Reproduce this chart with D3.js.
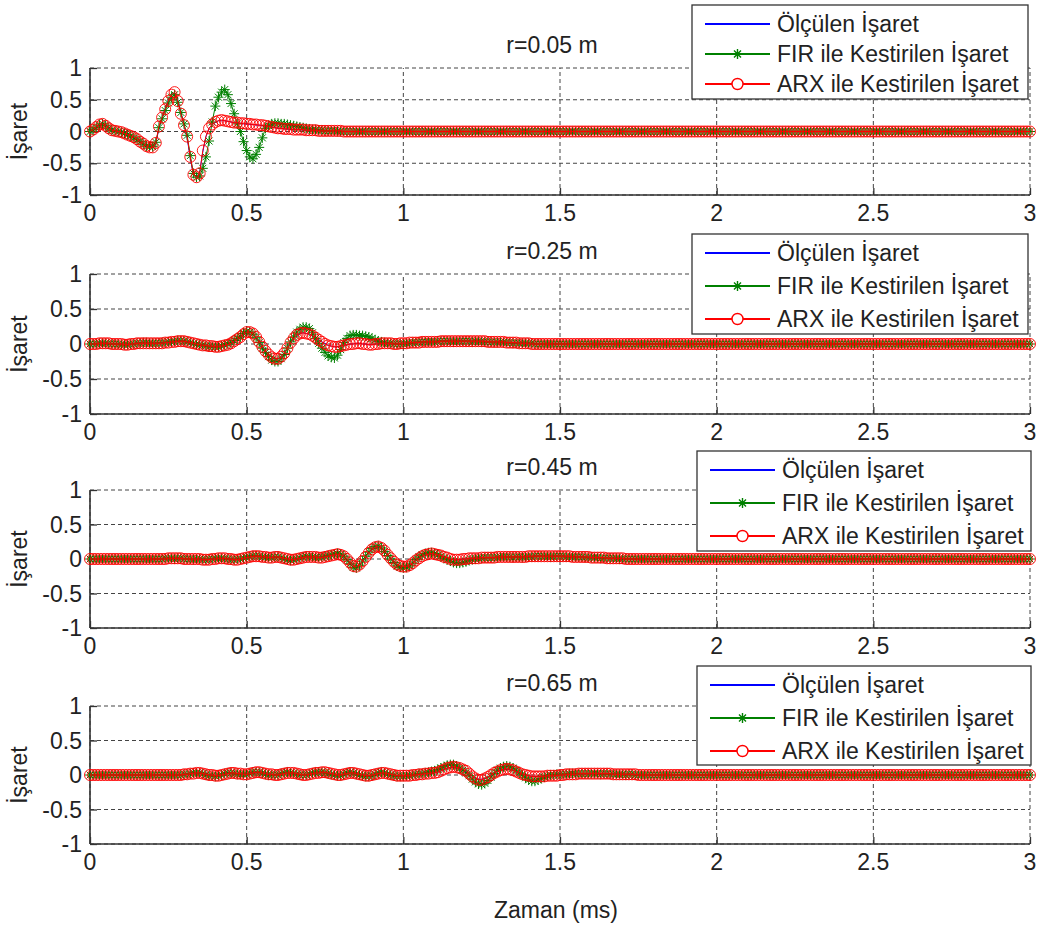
<!DOCTYPE html>
<html>
<head>
<meta charset="utf-8">
<script src="https://cdn.jsdelivr.net/npm/d3@7/dist/d3.min.js"></script>
<style>
body { margin: 0; background: #fff; }
text { font-family: "Liberation Sans", Arial, sans-serif; fill: #222; }
</style>
</head>
<body>
<svg id="chart" width="1040" height="926"></svg>
<script>
// signals are sampled every 0.01 ms from t=0, values in hundredths;
// one row = 0.1 ms. After the listed part the signal sits on 0 up to 3 ms.
var step = 0.01;
var tEnd = 3;
var radii = ["r=0.05 m", "r=0.25 m", "r=0.45 m", "r=0.65 m"];
var seriesNames = ["Ölçülen İşaret", "FIR ile Kestirilen İşaret", "ARX ile Kestirilen İşaret"];
var xTicks = [0, 0.5, 1, 1.5, 2, 2.5, 3];
var xTickLabels = ["0", "0.5", "1", "1.5", "2", "2.5", "3"];
var yTicks = [-1, -0.5, 0, 0.5, 1];
var yTickLabels = ["-1", "-0.5", "0", "0.5", "1"];

// r = 0.05 m
var olc1 = [0, 3, 7, 10, 12, 9, 6, 3, 1, 0,
	-1, -3, -5, -7, -9, -12, -15, -19, -22, -24,
	-25, -19, 5, 22, 36, 49, 58, 61, 50, 30,
	10, -10, -42, -68, -73, -64, -32, -8, 5, 11,
	14, 17, 17, 17, 16, 15, 14, 13, 13, 12,
	12, 11, 11, 10, 10, 9, 9, 8, 7, 6,
	5, 5, 4, 4, 3, 3, 3, 3, 2, 2,
	2, 2, 1, 1, 1, 1, 1, 1, 1, 1,
	0, 0, 0];
var fir1 = [0, 3, 6, 10, 12, 9, 5, 2, 1, 0,
	-1, -3, -5, -7, -10, -13, -16, -20, -23, -24,
	-24, -17, 6, 20, 33, 45, 54, 58, 46, 30,
	12, -6, -38, -66, -72, -70, -58, -40, -15, 15,
	40, 54, 62, 66, 58, 44, 28, 12, 0, -16,
	-30, -40, -43, -36, -25, -10, 5, 9, 12, 13,
	13, 12, 12, 11, 10, 9, 8, 7, 6, 5,
	4, 3, 3, 2, 2, 1, 1, 1, 1, 0,
	0, 0, 0];
var arx1 = [0, 3, 7, 11, 12, 9, 5, 2, 1, 0,
	-1, -3, -5, -7, -9, -12, -16, -19, -23, -25,
	-25, -18, 8, 22, 35, 48, 58, 62, 48, 28,
	10, -8, -40, -68, -72, -66, -30, -8, 5, 11,
	15, 17, 18, 17, 16, 15, 14, 14, 13, 13,
	12, 12, 11, 11, 10, 10, 9, 8, 7, 6,
	5, 5, 4, 4, 4, 3, 3, 3, 3, 2,
	2, 2, 2, 1, 1, 1, 1, 1, 1, 1,
	1, 0, 0];

// r = 0.25 m
var olc2 = [0, 0, 0, 1, 1, 1, 1, 0, 0, 0,
	0, -1, -1, 0, 0, 1, 1, 1, 1, 1,
	1, 1, 1, 1, 2, 2, 3, 3, 4, 4,
	4, 3, 2, 1, 0, -1, -2, -2, -3, -3,
	-4, -4, -3, -2, -1, 1, 3, 7, 10, 13,
	16, 17, 15, 10, 4, -3, -10, -15, -19, -21,
	-21, -18, -13, -6, 1, 8, 12, 15, 16, 15,
	14, 12, 9, 6, 3, 1, -2, -3, -4, -4,
	-3, -2, -1, 0, 0, 1, 1, 0, 0, -1,
	-1, 0, 0, 1, 1, 1, 1, 0, 0, 1,
	1, 1, 2, 2, 2, 2, 3, 3, 3, 3,
	3, 3, 4, 4, 4, 4, 4, 4, 4, 4,
	4, 4, 4, 4, 4, 4, 4, 3, 3, 3,
	3, 3, 3, 2, 2, 2, 2, 1, 1, 1,
	1, 0, 0];
var fir2 = [0, 0, 0, 1, 1, 1, 0, 0, 0, 0,
	-1, -1, -1, 0, 0, 1, 1, 2, 2, 1,
	1, 1, 1, 2, 2, 3, 3, 4, 5, 5,
	4, 3, 2, 1, -1, -1, -2, -3, -4, -4,
	-4, -4, -3, -1, 0, 2, 5, 8, 11, 15,
	18, 17, 14, 9, 2, -6, -12, -18, -23, -25,
	-25, -21, -15, -6, 3, 10, 17, 21, 24, 24,
	22, 16, 8, 1, -6, -12, -17, -19, -20, -16,
	-8, 2, 8, 12, 13, 13, 12, 12, 11, 10,
	8, 6, 4, 3, 2, 1, 1, 0, 0, 0,
	0, 1, 1, 2, 2, 3, 3, 3, 3, 3,
	3, 4, 4, 4, 4, 4, 3, 4, 4, 4,
	4, 4, 3, 4, 4, 3, 3, 3, 3, 2,
	2, 3, 2, 2, 2, 1, 1, 1, 1, 1,
	1, 1, 0];
var arx2 = [0, 0, 0, 1, 1, 1, 1, 0, 0, 0,
	0, -1, -1, 0, 0, 1, 1, 1, 1, 1,
	1, 1, 1, 1, 2, 2, 3, 3, 4, 4,
	4, 3, 2, 1, 0, -1, -2, -2, -3, -3,
	-4, -4, -3, -2, -1, 1, 4, 7, 10, 14,
	17, 17, 15, 10, 3, -4, -10, -15, -19, -21,
	-21, -18, -13, -6, 2, 8, 13, 15, 16, 15,
	14, 12, 9, 6, 3, 0, -2, -3, -4, -4,
	-3, -2, -1, 0, 0, 1, 1, 0, 0, -1,
	-1, 0, 0, 1, 1, 1, 1, 0, 0, 1,
	1, 1, 2, 2, 2, 2, 3, 3, 3, 3,
	3, 3, 4, 4, 4, 4, 4, 4, 4, 4,
	4, 4, 4, 4, 4, 4, 4, 3, 3, 3,
	3, 3, 3, 2, 2, 2, 2, 1, 1, 1,
	1, 0, 0];

// r = 0.45 m
var olc3 = [0, 0, 0, 0, 0, 0, 0, 0, 0, 0,
	0, 0, 0, 0, 0, 0, 0, 0, 0, 0,
	0, 0, 0, 0, 0, 1, 1, 1, 1, 1,
	0, 0, 0, 0, 0, 0, -1, -1, -1, 0,
	0, 1, 1, 1, 0, 0, -1, -1, 0, 1,
	2, 3, 4, 4, 4, 3, 3, 2, 2, 3,
	3, 2, 1, 0, -1, -1, 0, 1, 2, 3,
	3, 3, 3, 2, 2, 3, 4, 5, 6, 6,
	6, 4, 0, -5, -9, -11, -8, -3, 3, 9,
	14, 16, 17, 16, 12, 6, 1, -4, -8, -10,
	-11, -10, -9, -6, -2, 1, 4, 6, 7, 7,
	7, 6, 5, 3, 2, 0, -1, -1, -1, 0,
	0, 1, 1, 1, 1, 2, 2, 2, 2, 2,
	3, 3, 3, 3, 3, 3, 3, 3, 3, 3,
	4, 4, 4, 4, 4, 4, 4, 4, 4, 4,
	4, 4, 4, 4, 3, 3, 3, 3, 3, 3,
	2, 2, 2, 2, 2, 1, 1, 1, 1, 1,
	1, 0, 0];
var fir3 = [0, 0, 0, 0, 0, 0, 0, 0, 0, 0,
	0, 0, 0, 0, 0, 0, 0, 0, 0, 0,
	0, 0, 0, 0, 1, 1, 1, 0, 1, 1,
	0, 0, 0, -1, 0, 0, -1, -1, 0, 0,
	1, 1, 1, 0, 0, -1, -1, 0, 0, 1,
	3, 3, 5, 5, 4, 3, 2, 2, 2, 3,
	3, 2, 0, -1, -2, -1, 0, 1, 3, 4,
	4, 3, 2, 2, 3, 4, 5, 6, 7, 8,
	7, 4, -1, -7, -12, -13, -9, -3, 4, 10,
	15, 18, 19, 16, 11, 5, 0, -5, -10, -12,
	-13, -12, -10, -6, -1, 3, 6, 8, 9, 9,
	8, 6, 4, 1, -1, -3, -5, -6, -6, -5,
	-4, -2, -1, 0, 1, 1, 2, 2, 2, 2,
	2, 3, 3, 3, 3, 2, 3, 3, 2, 3,
	3, 3, 4, 4, 4, 4, 4, 3, 4, 4,
	4, 4, 3, 3, 3, 3, 3, 3, 2, 2,
	2, 2, 2, 1, 1, 1, 1, 1, 1, 0,
	0, 0, 0];
var arx3 = [0, 0, 0, 0, 0, 0, 0, 0, 0, 0,
	0, 0, 0, 0, 0, 0, 0, 0, 0, 0,
	0, 0, 0, 0, 0, 1, 1, 1, 1, 1,
	0, 0, 0, 0, 0, 0, -1, -1, -1, 0,
	0, 1, 1, 1, 0, 0, -1, -1, 0, 1,
	2, 3, 4, 4, 4, 3, 3, 2, 2, 3,
	3, 2, 1, 0, -1, -1, 0, 1, 2, 3,
	3, 3, 3, 2, 2, 3, 4, 5, 6, 7,
	6, 4, 0, -5, -10, -11, -8, -3, 3, 9,
	14, 17, 18, 16, 12, 6, 1, -4, -8, -10,
	-11, -11, -9, -6, -2, 1, 4, 6, 7, 8,
	7, 6, 5, 3, 2, 0, -1, -1, -1, 0,
	0, 1, 1, 1, 1, 2, 2, 2, 2, 2,
	3, 3, 3, 3, 3, 3, 3, 3, 3, 3,
	4, 4, 4, 4, 4, 4, 4, 4, 4, 4,
	4, 4, 4, 4, 3, 3, 3, 3, 3, 3,
	2, 2, 2, 2, 2, 1, 1, 1, 1, 1,
	1, 0, 0];

// r = 0.65 m
var olc4 = [0, 0, 0, 0, 0, 0, 0, 0, 0, 0,
	0, 0, 0, 0, 0, 0, 0, 0, 0, 0,
	0, 0, 0, 0, 0, 0, 0, 0, 0, 0,
	1, 1, 2, 2, 2, 2, 2, 1, 0, 0,
	-1, -1, 0, 1, 2, 2, 3, 2, 2, 1,
	1, 2, 3, 3, 4, 3, 2, 1, 1, 0,
	0, 1, 2, 3, 3, 3, 2, 1, 0, 0,
	1, 2, 3, 3, 3, 4, 3, 2, 1, 0,
	0, 1, 2, 3, 3, 2, 1, 0, -1, -1,
	0, 1, 2, 2, 3, 2, 1, 0, -1, -1,
	-1, -1, -1, 0, 0, 1, 1, 2, 2, 3,
	3, 4, 6, 8, 10, 11, 11, 11, 9, 7,
	5, 2, -2, -5, -6, -6, -5, -3, 0, 3,
	5, 7, 8, 8, 8, 7, 5, 3, 1, 0,
	-1, -2, -2, -2, -2, -2, -1, -1, -1, -1,
	0, 0, 1, 1, 1, 1, 2, 2, 2, 2,
	2, 2, 2, 2, 2, 2, 2, 1, 1, 1,
	1, 1, 1, 1, 1, 0, 0];
var fir4 = [0, 0, 0, 0, 0, 0, 0, 0, 0, 0,
	0, 0, 0, 0, 0, 0, 0, 0, 0, 0,
	0, 0, 0, 0, 0, 0, 0, 0, 0, 0,
	1, 1, 2, 3, 3, 3, 2, 0, -1, -1,
	-2, -1, 0, 2, 3, 3, 2, 1, 1, 1,
	1, 2, 4, 4, 4, 3, 1, 0, 0, 0,
	0, 2, 3, 4, 3, 2, 1, 0, 0, 0,
	1, 3, 4, 4, 4, 3, 2, 1, 0, -1,
	-1, 1, 3, 4, 3, 1, 0, -1, -2, -2,
	-1, 1, 3, 4, 3, 1, 0, -1, -2, -2,
	-2, -1, -1, 0, 1, 2, 2, 3, 4, 5,
	6, 8, 10, 12, 14, 15, 15, 13, 10, 7,
	3, -1, -6, -10, -13, -14, -12, -8, -3, 2,
	7, 10, 12, 13, 12, 10, 7, 3, 0, -4,
	-7, -9, -9, -7, -5, -3, -1, 0, 0, 1,
	1, 1, 1, 2, 2, 2, 2, 2, 2, 2,
	2, 2, 2, 1, 2, 2, 1, 1, 1, 1,
	1, 0, 1, 1, 0, 0, 0];
var arx4 = [0, 0, 0, 0, 0, 0, 0, 0, 0, 0,
	0, 0, 0, 0, 0, 0, 0, 0, 0, 0,
	0, 0, 0, 0, 0, 0, 0, 0, 0, 0,
	1, 1, 2, 2, 3, 3, 2, 1, 0, 0,
	-1, -1, 0, 1, 2, 3, 3, 2, 2, 1,
	1, 2, 3, 4, 4, 3, 2, 1, 1, 0,
	0, 1, 2, 3, 3, 3, 2, 1, 0, 0,
	1, 2, 3, 3, 4, 4, 3, 2, 1, 0,
	0, 1, 2, 3, 3, 2, 1, 0, -1, -1,
	0, 1, 2, 3, 3, 2, 1, 0, -1, -1,
	-1, -1, -1, 0, 0, 1, 1, 2, 2, 3,
	3, 4, 6, 8, 10, 11, 12, 11, 10, 8,
	6, 2, -2, -5, -7, -7, -5, -3, 0, 3,
	5, 7, 8, 9, 8, 7, 5, 3, 1, 0,
	-1, -2, -2, -2, -2, -2, -1, -1, -1, -1,
	0, 0, 1, 1, 1, 1, 2, 2, 2, 2,
	2, 2, 2, 2, 2, 2, 2, 1, 1, 1,
	1, 1, 1, 1, 1, 0, 0];

var olcSet = [olc1, olc2, olc3, olc4];
var firSet = [fir1, fir2, fir3, fir4];
var arxSet = [arx1, arx2, arx3, arx4];

// layout
var panelTop = [68, 274, 490, 706];
var panelBottom = [195, 414, 628, 844];
var legendBox = [[692, 5, 336, 94], [692, 234, 336, 100], [697, 451, 334, 100], [697, 666, 334, 99]];
var colors = ["#0000ff", "#008000", "#ff0000"];
var starPath = "M-5,0H5M0,-5V5M-3.5,-3.5L3.5,3.5M-3.5,3.5L3.5,-3.5";
var fontSize = "23px";

var svg = d3.select("#chart");
var x = d3.scaleLinear().domain([0, 3]).range([90, 1030]);
var nSamples = Math.round(tEnd / step) + 1;

function toPoints(vals) {
	var pts = [];
	for (var k = 0; k < nSamples; k++) {
		pts.push({ t: k * step, v: k < vals.length ? vals[k] / 100 : 0 });
	}
	return pts;
}

for (var i = 0; i < 4; i++) {
	drawPanel(i);
}

svg.append("text")
	.attr("x", 556).attr("y", 918)
	.attr("text-anchor", "middle")
	.style("font-size", fontSize)
	.text("Zaman (ms)");

function drawPanel(i) {
	var y = d3.scaleLinear().domain([-1, 1]).range([panelBottom[i], panelTop[i]]);
	var g = svg.append("g");

	// dotted grid
	g.selectAll(".gx").data(xTicks).enter().append("line")
		.attr("x1", function(d) { return x(d); }).attr("x2", function(d) { return x(d); })
		.attr("y1", y(-1)).attr("y2", y(1))
		.style("stroke", "#444").style("stroke-dasharray", "4,3");
	g.selectAll(".gy").data(yTicks).enter().append("line")
		.attr("x1", x(0)).attr("x2", x(3))
		.attr("y1", function(d) { return y(d); }).attr("y2", function(d) { return y(d); })
		.style("stroke", "#444").style("stroke-dasharray", "4,3");

	// axes (left and bottom only), ticks inside
	var xAxis = d3.axisTop(x).tickValues(xTicks).tickSize(7).tickFormat("");
	var yAxis = d3.axisRight(y).tickValues(yTicks).tickSize(7).tickFormat("");
	var gx = g.append("g").attr("transform", "translate(0," + y(-1) + ")").call(xAxis);
	var gy = g.append("g").attr("transform", "translate(" + x(0) + ",0)").call(yAxis);
	[gx, gy].forEach(function(a) {
		a.select(".domain").attr("d", null);
		a.selectAll("line").style("stroke", "#333").style("stroke-width", 1.3);
	});
	g.append("line").attr("x1", x(0)).attr("x2", x(3)).attr("y1", y(-1)).attr("y2", y(-1))
		.style("stroke", "#333").style("stroke-width", 1.6);
	g.append("line").attr("x1", x(0)).attr("x2", x(0)).attr("y1", y(-1)).attr("y2", y(1))
		.style("stroke", "#333").style("stroke-width", 1.6);

	g.selectAll(".xl").data(xTicks).enter().append("text")
		.attr("x", function(d) { return x(d); })
		.attr("y", y(-1) + 26)
		.attr("text-anchor", "middle")
		.style("font-size", fontSize)
		.text(function(d, k) { return xTickLabels[k]; });
	g.selectAll(".yl").data(yTicks).enter().append("text")
		.attr("x", 82)
		.attr("y", function(d) { return y(d) + 8; })
		.attr("text-anchor", "end")
		.style("font-size", fontSize)
		.text(function(d, k) { return yTickLabels[k]; });

	g.append("text")
		.attr("transform", "translate(27," + y(0) + ") rotate(-90)")
		.attr("text-anchor", "middle")
		.style("font-size", fontSize)
		.text("İşaret");

	g.append("text")
		.attr("x", 552).attr("y", panelTop[i] - 15)
		.attr("text-anchor", "middle")
		.style("font-size", fontSize)
		.text(radii[i]);

	// signals
	var line = d3.line().x(function(d) { return x(d.t); }).y(function(d) { return y(d.v); });
	var olc = toPoints(olcSet[i]), fir = toPoints(firSet[i]), arx = toPoints(arxSet[i]);

	g.append("path").datum(olc).attr("d", line)
		.style("fill", "none").style("stroke", colors[0]).style("stroke-width", 1);

	g.append("path").datum(fir).attr("d", line)
		.style("fill", "none").style("stroke", colors[1]).style("stroke-width", 1);
	g.selectAll(".star").data(fir).enter().append("path")
		.attr("transform", function(d) { return "translate(" + x(d.t) + "," + y(d.v) + ")"; })
		.attr("d", starPath)
		.style("fill", "none").style("stroke", colors[1]).style("stroke-width", 1);

	g.append("path").datum(arx).attr("d", line)
		.style("fill", "none").style("stroke", colors[2]).style("stroke-width", 1);
	g.selectAll(".circ").data(arx).enter().append("circle")
		.attr("cx", function(d) { return x(d.t); })
		.attr("cy", function(d) { return y(d.v); })
		.attr("r", 5.5)
		.style("fill", "none").style("stroke", colors[2]).style("stroke-width", 0.9);

	// legend
	var b = legendBox[i];
	var lg = g.append("g").attr("transform", "translate(" + b[0] + "," + b[1] + ")");
	lg.append("rect").attr("width", b[2]).attr("height", b[3])
		.style("fill", "#fff").style("stroke", "#333").style("stroke-width", 1.3);
	var rowGap = Math.round((b[3] - 34) / 2);
	seriesNames.forEach(function(name, k) {
		var ry = 19 + k * rowGap;
		lg.append("line").attr("x1", 13).attr("x2", 78).attr("y1", ry).attr("y2", ry)
			.style("stroke", colors[k]).style("stroke-width", 2);
		if (k === 1) {
			lg.append("path").attr("transform", "translate(45.5," + ry + ")").attr("d", starPath)
				.style("fill", "none").style("stroke", colors[1]).style("stroke-width", 1.4);
		}
		if (k === 2) {
			lg.append("circle").attr("cx", 45.5).attr("cy", ry).attr("r", 5.5)
				.style("fill", "#fff").style("stroke", colors[2]).style("stroke-width", 1.4);
		}
		lg.append("text").attr("x", 85).attr("y", ry + 8)
			.style("font-size", fontSize)
			.text(name);
	});
}
</script>
</body>
</html>
